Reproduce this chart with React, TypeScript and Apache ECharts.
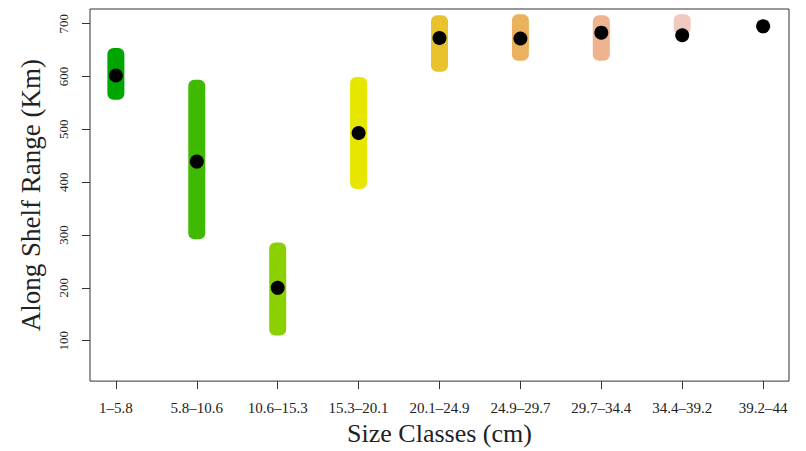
import React, { useEffect, useRef } from "react";
import * as echarts from "echarts";

const categories = ["1–5.8", "5.8–10.6", "10.6–15.3", "15.3–20.1", "20.1–24.9", "24.9–29.7", "29.7–34.4", "34.4–39.2", "39.2–44"];
const rangeLow = [556, 292, 110, 387, 609, 630, 630, 680, 690];
const rangeHigh = [654, 594, 286, 599, 716, 718, 716, 718, 700];
const pointValues = [602, 439, 200, 493, 673, 672, 683, 678, 695];
const barColors = ["#00A600", "#3EBB00", "#8BD000", "#E6E600", "#E8C32E", "#EBB25E", "#EDB48E", "#F0C9C0", "#F2F2F2"];
const yTicks = [100, 200, 300, 400, 500, 600, 700];
const xTicks = [1, 2, 3, 4, 5, 6, 7, 8, 9];

const FONT = "'Liberation Serif', 'DejaVu Serif', serif";

export default function App() {
  const ref = useRef<HTMLDivElement>(null);
  useEffect(() => {
    if (!ref.current) return;
    const chart = echarts.init(ref.current, undefined, { renderer: "svg" });
    const rangeData = categories.map((_, i) => [i + 1, rangeLow[i], rangeHigh[i]]);
    const pointData = categories.map((_, i) => [i + 1, pointValues[i]]);
    chart.setOption({
      animation: false,
      backgroundColor: "#ffffff",
      grid: {
        left: 90,
        top: 9,
        right: 17,
        bottom: 68,
        show: true,
        borderColor: "#333",
        borderWidth: 1,
        backgroundColor: "transparent",
      },
      xAxis: {
        type: "value",
        min: 0.68,
        max: 9.32,
        name: "Size Classes (cm)",
        nameLocation: "middle",
        nameGap: 35,
        nameTextStyle: { fontFamily: FONT, fontSize: 26, color: "#222" },
        axisLine: { show: false },
        splitLine: { show: false },
        axisTick: {
          show: true,
          length: 8,
          customValues: xTicks,
          lineStyle: { color: "#333" },
        },
        axisLabel: {
          customValues: xTicks,
          margin: 19,
          fontFamily: FONT,
          fontSize: 15,
          color: "#222",
          formatter: (v: number) => categories[Math.round(v) - 1] ?? "",
        },
      },
      yAxis: {
        type: "value",
        min: 23.5,
        max: 727.8,
        name: "Along Shelf Range (Km)",
        nameLocation: "middle",
        nameGap: 46,
        nameTextStyle: { fontFamily: FONT, fontSize: 27, color: "#222" },
        axisLine: { show: false },
        splitLine: { show: false },
        axisTick: {
          show: true,
          length: 8,
          customValues: yTicks,
          lineStyle: { color: "#333" },
        },
        axisLabel: {
          customValues: yTicks,
          rotate: 90,
          margin: 20,
          fontFamily: FONT,
          fontSize: 13,
          color: "#222",
        },
      },
      series: [
        {
          type: "custom",
          data: rangeData,
          encode: { x: 0, y: [1, 2] },
          renderItem: (params: any, api: any) => {
            const x = api.value(0);
            const lo = api.coord([x, api.value(1)]);
            const hi = api.coord([x, api.value(2)]);
            const w = 17;
            return {
              type: "rect",
              shape: { x: lo[0] - w / 2, y: hi[1], width: w, height: lo[1] - hi[1], r: 6 },
              style: { fill: barColors[params.dataIndex] },
            };
          },
          z: 2,
        },
        {
          type: "scatter",
          data: pointData,
          symbol: "circle",
          symbolSize: 14,
          itemStyle: { color: "#000", opacity: 1 },
          z: 3,
        },
      ],
    });
    return () => chart.dispose();
  }, []);
  return <div ref={ref} style={{ width: 806, height: 451, position: "absolute", left: 0, top: 0 }} />;
}
